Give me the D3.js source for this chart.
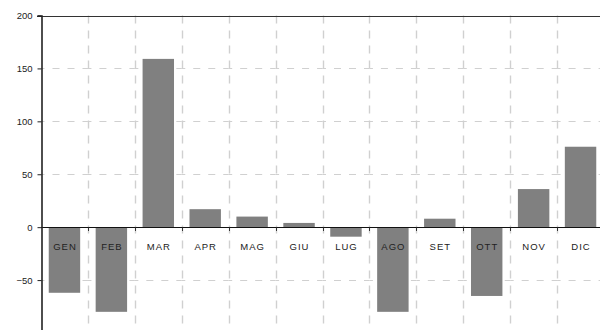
<!DOCTYPE html>
<html>
<head>
<meta charset="utf-8">
<script src="https://cdn.jsdelivr.net/npm/d3@7"></script>
<style>
  html, body { margin: 0; padding: 0; background: #fff; overflow: hidden; }
  svg { display: block; }
</style>
</head>
<body>
<svg id="chart" width="600" height="330"></svg>
<script>
// Monthly values
const months = ["GEN", "FEB", "MAR", "APR", "MAG", "GIU", "LUG", "AGO", "SET", "OTT", "NOV", "DIC"];
const values = [-62, -80, 159, 17, 10, 4, -9, -80, 8, -65, 36, 76];
const yTicks = [-100, -50, 0, 50, 100, 150, 200];

const svg = d3.select("#chart");
const plotLeft = 41, plotRight = 604, plotTop = 15.5, plotBottom = 333;

const x = d3.scaleBand().domain(months).range([plotLeft, plotRight]).paddingInner(0).paddingOuter(0);
const y = d3.scaleLinear().domain([-100, 200]).range([plotBottom, plotTop]);

const gridColor = "#d0d0d0";

// horizontal dashed grid, drawn cell by cell so dashes meet at the crossings
const hLines = yTicks.filter(t => t !== 0 && t !== 200);
const cells = [];
hLines.forEach(t => months.forEach(m => cells.push({ t, m })));
svg.append("g").selectAll("line")
  .data(cells)
  .join("line")
  .attr("x1", d => x(d.m)).attr("x2", d => x(d.m) + x.bandwidth())
  .attr("y1", d => Math.round(y(d.t)) + 0.5).attr("y2", d => Math.round(y(d.t)) + 0.5)
  .attr("stroke", gridColor).attr("stroke-width", 1.2)
  .attr("stroke-dasharray", "7,8")
  .attr("stroke-dashoffset", 3.5);

// vertical dashed grid at category boundaries
svg.append("g").selectAll("line")
  .data(months.slice(1))
  .join("line")
  .attr("x1", d => Math.round(x(d)) + 0.5).attr("x2", d => Math.round(x(d)) + 0.5)
  .attr("y1", plotTop).attr("y2", plotBottom)
  .attr("stroke", gridColor).attr("stroke-width", 1.4)
  .attr("stroke-dasharray", "8,7");

// bars
const barW = x.bandwidth() * 0.67;
svg.append("g").selectAll("rect")
  .data(months.map((m, i) => ({ m, v: values[i] })))
  .join("rect")
  .attr("x", d => x(d.m) + (x.bandwidth() - barW) / 2)
  .attr("width", barW)
  .attr("y", d => y(Math.max(0, d.v)))
  .attr("height", d => Math.abs(y(d.v) - y(0)))
  .attr("fill", "#808080");

// top border
svg.append("line")
  .attr("x1", plotLeft - 4).attr("x2", 600)
  .attr("y1", Math.round(plotTop) + 0.5).attr("y2", Math.round(plotTop) + 0.5)
  .attr("stroke", "#333").attr("stroke-width", 1.2);

// zero line
const y0 = Math.round(y(0)) + 0.5;
svg.append("line")
  .attr("x1", plotLeft).attr("x2", 600)
  .attr("y1", y0).attr("y2", y0)
  .attr("stroke", "#111").attr("stroke-width", 1.2);

// small ticks below the zero line at category boundaries
svg.append("g").selectAll("line")
  .data(months.slice(1))
  .join("line")
  .attr("x1", d => Math.round(x(d)) + 0.5).attr("x2", d => Math.round(x(d)) + 0.5)
  .attr("y1", y0).attr("y2", y0 + 3.5)
  .attr("stroke", "#333").attr("stroke-width", 1);

// y axis
const yAxis = d3.axisLeft(y).tickValues(yTicks).tickSize(4).tickPadding(5).tickFormat(d3.format("d"));
const gy = svg.append("g").attr("transform", `translate(${plotLeft + 0.5},0)`).call(yAxis);
gy.select(".domain").attr("stroke", "#222").attr("stroke-width", 1.6);
gy.selectAll(".tick line").attr("stroke", "#222");
gy.selectAll(".tick text")
  .attr("font-family", "Liberation Sans, Arial, sans-serif")
  .attr("font-size", 9.5).attr("fill", "#222");

// category labels under the zero line
svg.append("g").selectAll("text")
  .data(months)
  .join("text")
  .attr("x", d => x(d) + x.bandwidth() / 2 + 0.5)
  .attr("y", y(0) + 23)
  .attr("text-anchor", "middle")
  .attr("font-family", "Liberation Sans, Arial, sans-serif")
  .attr("font-size", 9.5)
  .attr("letter-spacing", 1)
  .attr("fill", "#222")
  .text(d => d);
</script>
</body>
</html>
